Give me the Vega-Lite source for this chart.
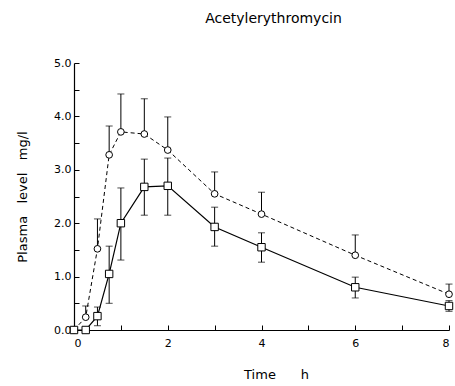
{
  "$schema": "https://vega.github.io/schema/vega-lite/v6.json",
  "autosize": "none",
  "width": 375,
  "height": 267,
  "padding": {"left": 74, "top": 63, "right": 6, "bottom": 56},
  "background": "white",
  "title": {"text": "Acetylerythromycin", "font": "DejaVu Sans", "fontSize": 14, "fontWeight": "normal", "color": "black", "offset": 31, "dx": 12},
  "config": {
    "view": {"stroke": null},
    "axis": {"domainColor": "black", "tickColor": "black", "labelColor": "black", "titleColor": "black", "labelFont": "DejaVu Sans", "titleFont": "DejaVu Sans", "labelFontSize": 11, "titleFontSize": 13, "titleFontWeight": "normal", "grid": false, "domainWidth": 1.2}
  },
  "data": {"values": [
    {"s": "c", "t": 0, "y": 0, "hi": 0, "lo": 0},
    {"s": "c", "t": 0.25, "y": 0.24, "hi": 0.45, "lo": 0.24},
    {"s": "c", "t": 0.5, "y": 1.52, "hi": 2.08, "lo": 1.52},
    {"s": "c", "t": 0.75, "y": 3.28, "hi": 3.82, "lo": 3.28},
    {"s": "c", "t": 1, "y": 3.71, "hi": 4.42, "lo": 3.71},
    {"s": "c", "t": 1.5, "y": 3.67, "hi": 4.33, "lo": 3.67},
    {"s": "c", "t": 2, "y": 3.37, "hi": 3.99, "lo": 3.37},
    {"s": "c", "t": 3, "y": 2.55, "hi": 2.96, "lo": 2.55},
    {"s": "c", "t": 4, "y": 2.17, "hi": 2.58, "lo": 2.17},
    {"s": "c", "t": 6, "y": 1.40, "hi": 1.78, "lo": 1.40},
    {"s": "c", "t": 8, "y": 0.67, "hi": 0.86, "lo": 0.67},
    {"s": "q", "t": 0, "y": 0, "hi": 0, "lo": 0},
    {"s": "q", "t": 0.25, "y": 0, "hi": 0, "lo": 0},
    {"s": "q", "t": 0.5, "y": 0.26, "hi": 0.43, "lo": 0.08},
    {"s": "q", "t": 0.75, "y": 1.05, "hi": 1.57, "lo": 0.5},
    {"s": "q", "t": 1, "y": 2.0, "hi": 2.66, "lo": 1.31},
    {"s": "q", "t": 1.5, "y": 2.68, "hi": 3.2, "lo": 2.15},
    {"s": "q", "t": 2, "y": 2.70, "hi": 3.22, "lo": 2.15},
    {"s": "q", "t": 3, "y": 1.93, "hi": 2.3, "lo": 1.57},
    {"s": "q", "t": 4, "y": 1.55, "hi": 1.82, "lo": 1.27},
    {"s": "q", "t": 6, "y": 0.8, "hi": 0.99, "lo": 0.6},
    {"s": "q", "t": 8, "y": 0.45, "hi": 0.55, "lo": 0.35}
  ]},
  "encoding": {
    "x": {"field": "t", "type": "quantitative", "scale": {"domain": [0, 8], "nice": false},
      "axis": {"title": "Time\u00a0\u00a0\u00a0\u00a0\u00a0\u00a0h", "titleX": 202, "titleAnchor": "middle", "values": [0,1,2,3,4,5,6,7,8], "labelExpr": "datum.value % 2 == 0 ? datum.label : ''", "tickSize": -5, "labelPadding": 12, "titlePadding": 20}},
    "y": {"field": "y", "type": "quantitative", "scale": {"domain": [0, 5], "nice": false},
      "axis": {"title": "Plasma\u00a0\u00a0\u00a0level\u00a0\u00a0\u00a0mg/l", "values": [0,0.5,1,1.5,2,2.5,3,3.5,4,4.5,5], "labelExpr": "datum.value % 1 == 0 ? format(datum.value, '.1f') : ''", "tickSize": -5, "labelPadding": 8, "titlePadding": 24}}
  },
  "layer": [
    {"mark": {"type": "rule", "color": "black", "strokeWidth": 1}, "encoding": {"y": {"field": "lo", "type": "quantitative"}, "y2": {"field": "hi"}}},
    {"transform": [{"filter": "datum.hi > datum.y"}], "mark": {"type": "tick", "orient": "horizontal", "color": "black", "size": 7, "thickness": 1}, "encoding": {"y": {"field": "hi", "type": "quantitative"}}},
    {"transform": [{"filter": "datum.lo < datum.y"}], "mark": {"type": "tick", "orient": "horizontal", "color": "black", "size": 7, "thickness": 1}, "encoding": {"y": {"field": "lo", "type": "quantitative"}}},
    {"transform": [{"filter": "datum.s == 'c'"}], "mark": {"type": "line", "color": "black", "strokeWidth": 1, "strokeDash": [4, 3], "clip": false}, "encoding": {}},
    {"transform": [{"filter": "datum.s == 'q'"}], "mark": {"type": "line", "color": "black", "strokeWidth": 1.2, "clip": false}, "encoding": {}},
    {"transform": [{"filter": "datum.s == 'c'"}], "mark": {"type": "point", "shape": "circle", "size": 45, "filled": true, "fill": "white", "stroke": "black", "strokeWidth": 1, "opacity": 1, "clip": false}, "encoding": {}},
    {"transform": [{"filter": "datum.s == 'q'"}], "mark": {"type": "point", "shape": "square", "size": 55, "filled": true, "fill": "white", "stroke": "black", "strokeWidth": 1, "opacity": 1, "clip": false}, "encoding": {}}
  ]
}
